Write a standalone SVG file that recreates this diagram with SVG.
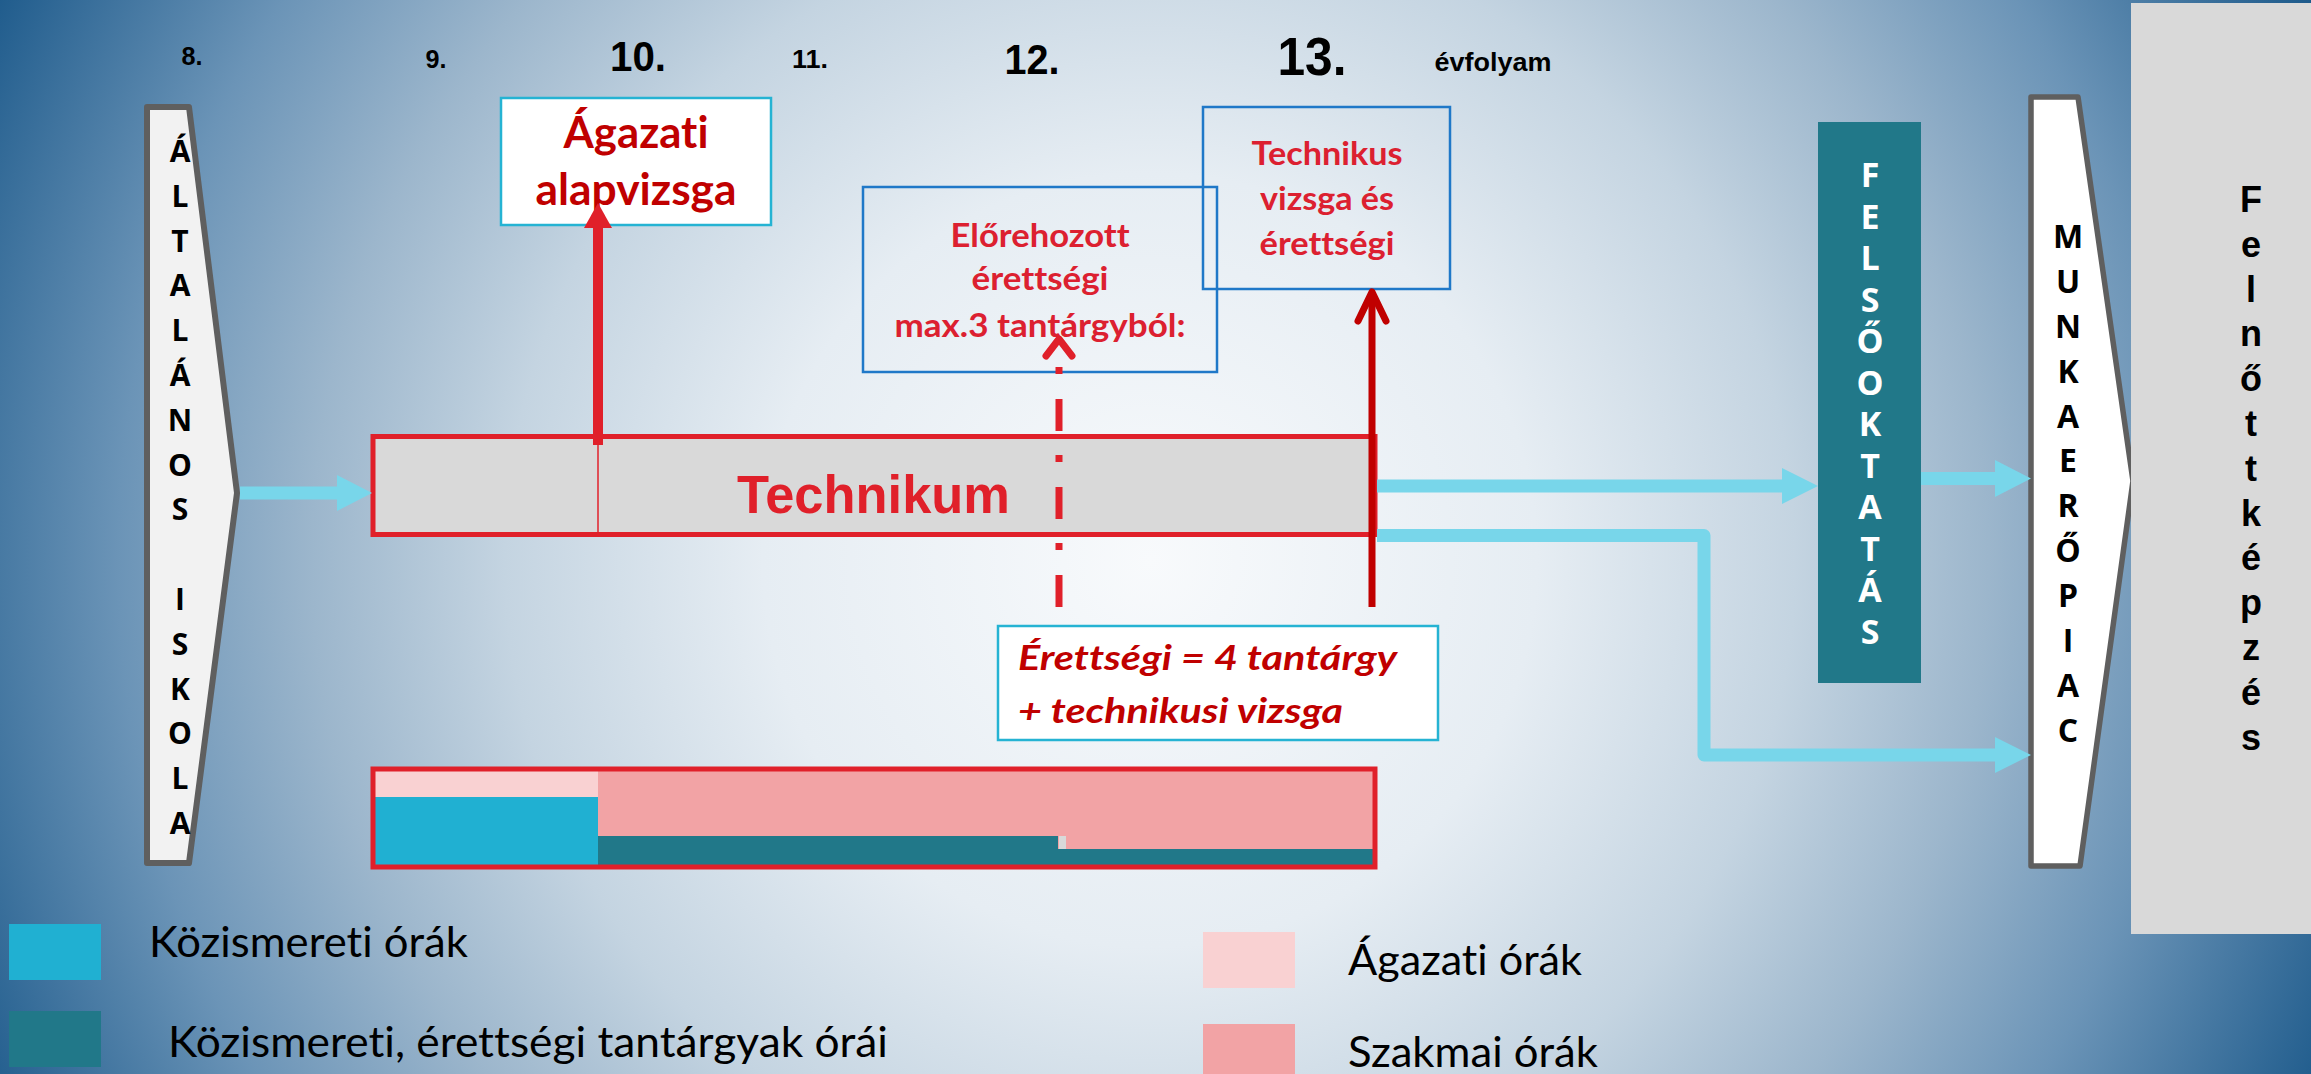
<svg xmlns="http://www.w3.org/2000/svg" width="2311" height="1074" viewBox="0 0 2311 1074">
  <defs>
    <radialGradient id="bg" gradientUnits="userSpaceOnUse" cx="1150" cy="560" r="1290">
      <stop offset="0" stop-color="#f8fafc"/>
      <stop offset="0.3" stop-color="#e6edf3"/>
      <stop offset="0.5" stop-color="#c4d4e1"/>
      <stop offset="0.65" stop-color="#9cb6cc"/>
      <stop offset="0.8" stop-color="#6b94b7"/>
      <stop offset="1" stop-color="#1d5a8b"/>
    </radialGradient>
    <style>
      text { font-variant-ligatures: none; font-feature-settings: "liga" 0, "clig" 0, "dlig" 0; }
      .num { font-family: "Liberation Sans Narrow", "Liberation Sans", Arial, sans-serif; font-weight: bold; fill: #000; text-anchor: middle; }
      .vert { font-family: "Open Sans", "DejaVu Sans", sans-serif; font-weight: bold; text-anchor: middle; }
      .redb { font-family: Lato, "Open Sans", sans-serif; font-weight: bold; text-anchor: middle; }
      .ital { font-family: Lato, "Open Sans", sans-serif; font-weight: bold; font-style: italic; fill: #c00000; }
      .cyan { fill: none; stroke: #78d6ea; stroke-width: 13; stroke-linejoin: round; }
      .cyanhead { fill: #78d6ea; }
      .blue { fill: none; stroke: #1f78c8; stroke-width: 2.5; }
      .wbox { fill: #ffffff; stroke: #25b3d3; stroke-width: 2.5; }
      .legend { font-family: Lato, "Open Sans", sans-serif; font-size: 42px; fill: #000; }
    </style>
  </defs>

  <rect x="0" y="0" width="2311" height="1074" fill="url(#bg)"/>

  <!-- year labels -->
  <g id="years">
    <text class="num" x="192" y="65" font-size="25" textLength="21" lengthAdjust="spacingAndGlyphs">8.</text>
    <text class="num" x="436" y="68" font-size="25" textLength="21" lengthAdjust="spacingAndGlyphs">9.</text>
    <text class="num" x="638" y="71" font-size="43" textLength="56" lengthAdjust="spacingAndGlyphs">10.</text>
    <text class="num" x="810" y="68" font-size="26" textLength="36" lengthAdjust="spacingAndGlyphs">11.</text>
    <text class="num" x="1032" y="74" font-size="43" textLength="55" lengthAdjust="spacingAndGlyphs">12.</text>
    <text class="num" x="1312" y="75" font-size="53" textLength="69" lengthAdjust="spacingAndGlyphs">13.</text>
    <text class="num" x="1493" y="71" font-size="25" textLength="117" lengthAdjust="spacingAndGlyphs">évfolyam</text>
  </g>

  <!-- Általános iskola -->
  <g id="altalanos-iskola">
    <polygon points="147,107 189,107 237,493 189,863 147,863" fill="#f2f2f2" stroke="#5f5f5f" stroke-width="6" stroke-linejoin="round"/>
    <text class="vert" font-size="30" fill="#000">
      <tspan x="180" y="162">Á</tspan><tspan x="180" y="207">L</tspan><tspan x="180" y="252">T</tspan><tspan x="180" y="296">A</tspan><tspan x="180" y="341">L</tspan><tspan x="180" y="386">Á</tspan><tspan x="180" y="431">N</tspan><tspan x="180" y="476">O</tspan><tspan x="180" y="520">S</tspan><tspan x="180" y="610">I</tspan><tspan x="180" y="655">S</tspan><tspan x="180" y="700">K</tspan><tspan x="180" y="744">O</tspan><tspan x="180" y="789">L</tspan><tspan x="180" y="834">A</tspan>
    </text>
  </g>

  <!-- Technikum -->
  <g id="technikum">
    <rect x="373" y="436.5" width="1002" height="98" fill="#d9d9d9" stroke="#e0202a" stroke-width="5"/>
    <line x1="598" y1="436" x2="598" y2="534" stroke="#e0202a" stroke-width="1.5"/>
    <text x="737" y="513" font-family="Liberation Sans, Arial, sans-serif" font-weight="bold" font-size="53" fill="#e0202a" textLength="273" lengthAdjust="spacingAndGlyphs">Technikum</text>
  </g>

  <!-- Ágazati alapvizsga -->
  <g id="agazati-alapvizsga">
    <rect class="wbox" x="501" y="98" width="270" height="127"/>
    <text class="redb" x="636" y="148" font-size="43" fill="#c00000" textLength="145" lengthAdjust="spacingAndGlyphs">Ágazati</text>
    <text class="redb" x="636" y="205" font-size="43" fill="#c00000" textLength="201" lengthAdjust="spacingAndGlyphs">alapvizsga</text>
  </g>

  <!-- Előrehozott érettségi -->
  <g id="elorehozott-erettsegi">
    <rect class="blue" x="863" y="187" width="354" height="185"/>
    <text class="redb" x="1040" y="247" font-size="33" fill="#dc2030" textLength="179" lengthAdjust="spacingAndGlyphs">Előrehozott</text>
    <text class="redb" x="1040" y="290" font-size="33" fill="#dc2030" textLength="137" lengthAdjust="spacingAndGlyphs">érettségi</text>
    <text class="redb" x="1040" y="337" font-size="33" fill="#dc2030" textLength="291" lengthAdjust="spacingAndGlyphs">max.3 tantárgyból:</text>
  </g>

  <!-- Technikus vizsga és érettségi -->
  <g id="technikus-vizsga">
    <rect class="blue" x="1203" y="107" width="247" height="182"/>
    <text class="redb" x="1327" y="165" font-size="33" fill="#dc2030" textLength="151" lengthAdjust="spacingAndGlyphs">Technikus</text>
    <text class="redb" x="1327" y="210" font-size="33" fill="#dc2030" textLength="134" lengthAdjust="spacingAndGlyphs">vizsga és</text>
    <text class="redb" x="1327" y="255" font-size="33" fill="#dc2030" textLength="135" lengthAdjust="spacingAndGlyphs">érettségi</text>
  </g>

  <!-- Érettségi = 4 tantárgy -->
  <g id="erettsegi-info">
    <rect class="wbox" x="998" y="626" width="440" height="114"/>
    <text class="ital" x="1018" y="670" font-size="34" textLength="379" lengthAdjust="spacingAndGlyphs">Érettségi = 4 tantárgy</text>
    <text class="ital" x="1018" y="723" font-size="34" textLength="325" lengthAdjust="spacingAndGlyphs">+ technikusi vizsga</text>
  </g>

  <!-- Hours bar -->
  <g id="oraszam-savok">
    <rect x="373" y="769" width="225" height="28" fill="#f9d1d2"/>
    <rect x="373" y="797" width="225" height="70" fill="#20b0d2"/>
    <rect x="598" y="769" width="460" height="67" fill="#f2a3a5"/>
    <rect x="598" y="836" width="460" height="31" fill="#217889"/>
    <rect x="1058" y="769" width="317" height="80" fill="#f2a3a5"/>
    <rect x="1058" y="849" width="317" height="18" fill="#217889"/>
    <rect x="1059" y="836" width="7" height="13" fill="#d9d9d9"/>
    <rect x="373" y="769" width="1002" height="98" fill="none" stroke="#e0202a" stroke-width="5"/>
  </g>

  <!-- Felsőoktatás -->
  <g id="felsooktatas">
    <rect x="1818" y="122" width="103" height="561" fill="#217889"/>
    <text class="vert" font-size="34" fill="#ffffff">
      <tspan x="1870" y="187">F</tspan><tspan x="1870" y="228.5">E</tspan><tspan x="1870" y="270">L</tspan><tspan x="1870" y="311.5">S</tspan><tspan x="1870" y="353">Ő</tspan><tspan x="1870" y="394.5">O</tspan><tspan x="1870" y="436">K</tspan><tspan x="1870" y="477.5">T</tspan><tspan x="1870" y="519">A</tspan><tspan x="1870" y="560.5">T</tspan><tspan x="1870" y="602">Á</tspan><tspan x="1870" y="643.5">S</tspan>
    </text>
  </g>

  <!-- Munkaerőpiac -->
  <g id="munkaeropiac">
    <polygon points="2031,97 2078,97 2133,481 2080,866 2031,866" fill="#ffffff" stroke="#5f5f5f" stroke-width="5.5" stroke-linejoin="round"/>
    <text class="vert" font-size="32" fill="#000">
      <tspan x="2068" y="248">M</tspan><tspan x="2068" y="293">U</tspan><tspan x="2068" y="338">N</tspan><tspan x="2068" y="383">K</tspan><tspan x="2068" y="428">A</tspan><tspan x="2068" y="472">E</tspan><tspan x="2068" y="517">R</tspan><tspan x="2068" y="562">Ő</tspan><tspan x="2068" y="607">P</tspan><tspan x="2068" y="652">I</tspan><tspan x="2068" y="697">A</tspan><tspan x="2068" y="742">C</tspan>
    </text>
  </g>

  <!-- Felnőttképzés -->
  <g id="felnottkepzes">
    <rect x="2131" y="3" width="180" height="931" fill="#d9d9d9"/>
    <text font-family="Liberation Sans, Arial, sans-serif" font-weight="bold" font-size="36" fill="#000" text-anchor="middle">
      <tspan x="2251" y="212">F</tspan><tspan x="2251" y="257">e</tspan><tspan x="2251" y="302">l</tspan><tspan x="2251" y="346">n</tspan><tspan x="2251" y="391">ő</tspan><tspan x="2251" y="436">t</tspan><tspan x="2251" y="481">t</tspan><tspan x="2251" y="526">k</tspan><tspan x="2251" y="570">é</tspan><tspan x="2251" y="615">p</tspan><tspan x="2251" y="660">z</tspan><tspan x="2251" y="705">é</tspan><tspan x="2251" y="750">s</tspan>
    </text>
  </g>

  <!-- connectors -->
  <g id="connectors">
    <!-- Általános -> Technikum -->
    <line class="cyan" x1="240" y1="493" x2="338" y2="493"/>
    <polygon class="cyanhead" points="337,475 372,493 337,511"/>
    <!-- Technikum -> Felsőoktatás -->
    <line class="cyan" x1="1377" y1="486" x2="1783" y2="486"/>
    <polygon class="cyanhead" points="1782,468 1818,486 1782,504"/>
    <!-- Technikum -> Munkaerőpiac -->
    <polyline class="cyan" points="1377,535.5 1704,535.5 1704,755 1996,755"/>
    <polygon class="cyanhead" points="1995,737 2031,755 1995,773"/>
    <!-- Felsőoktatás -> Munkaerőpiac -->
    <line class="cyan" x1="1921" y1="478.5" x2="1996" y2="478.5"/>
    <polygon class="cyanhead" points="1995,460 2031,478.5 1995,497"/>

    <!-- Technikum -> Ágazati alapvizsga -->
    <line x1="598" y1="445" x2="598" y2="226" stroke="#e0202a" stroke-width="10"/>
    <polygon points="584,228 598,203 612,228" fill="#e0202a"/>

    <!-- dashed -> Előrehozott érettségi -->
    <line x1="1059" y1="607" x2="1059" y2="362" stroke="#e0202a" stroke-width="7" stroke-dasharray="32 25 7 24"/>
    <polyline points="1046,356 1059,339 1072,356" fill="none" stroke="#e0202a" stroke-width="7" stroke-linecap="round" stroke-linejoin="round"/>

    <!-- solid -> Technikus vizsga -->
    <line x1="1372" y1="607" x2="1372" y2="292" stroke="#c00000" stroke-width="7"/>
    <polyline points="1358,321 1372,292 1386,321" fill="none" stroke="#c00000" stroke-width="7" stroke-linecap="round" stroke-linejoin="round"/>
  </g>

  <!-- legend -->
  <g id="legend">
    <rect x="9" y="924" width="92" height="56" fill="#20b0d2"/>
    <text class="legend" x="149" y="957" textLength="319" lengthAdjust="spacingAndGlyphs">Közismereti órák</text>
    <rect x="9" y="1011" width="92" height="56" fill="#217889"/>
    <text class="legend" x="168" y="1057" textLength="720" lengthAdjust="spacingAndGlyphs">Közismereti, érettségi tantárgyak órái</text>
    <rect x="1203" y="932" width="92" height="56" fill="#f9d1d2"/>
    <text class="legend" x="1348" y="975" textLength="234" lengthAdjust="spacingAndGlyphs">Ágazati órák</text>
    <rect x="1203" y="1024" width="92" height="56" fill="#f2a3a5"/>
    <text class="legend" x="1348" y="1067" textLength="250" lengthAdjust="spacingAndGlyphs">Szakmai órák</text>
  </g>
</svg>
